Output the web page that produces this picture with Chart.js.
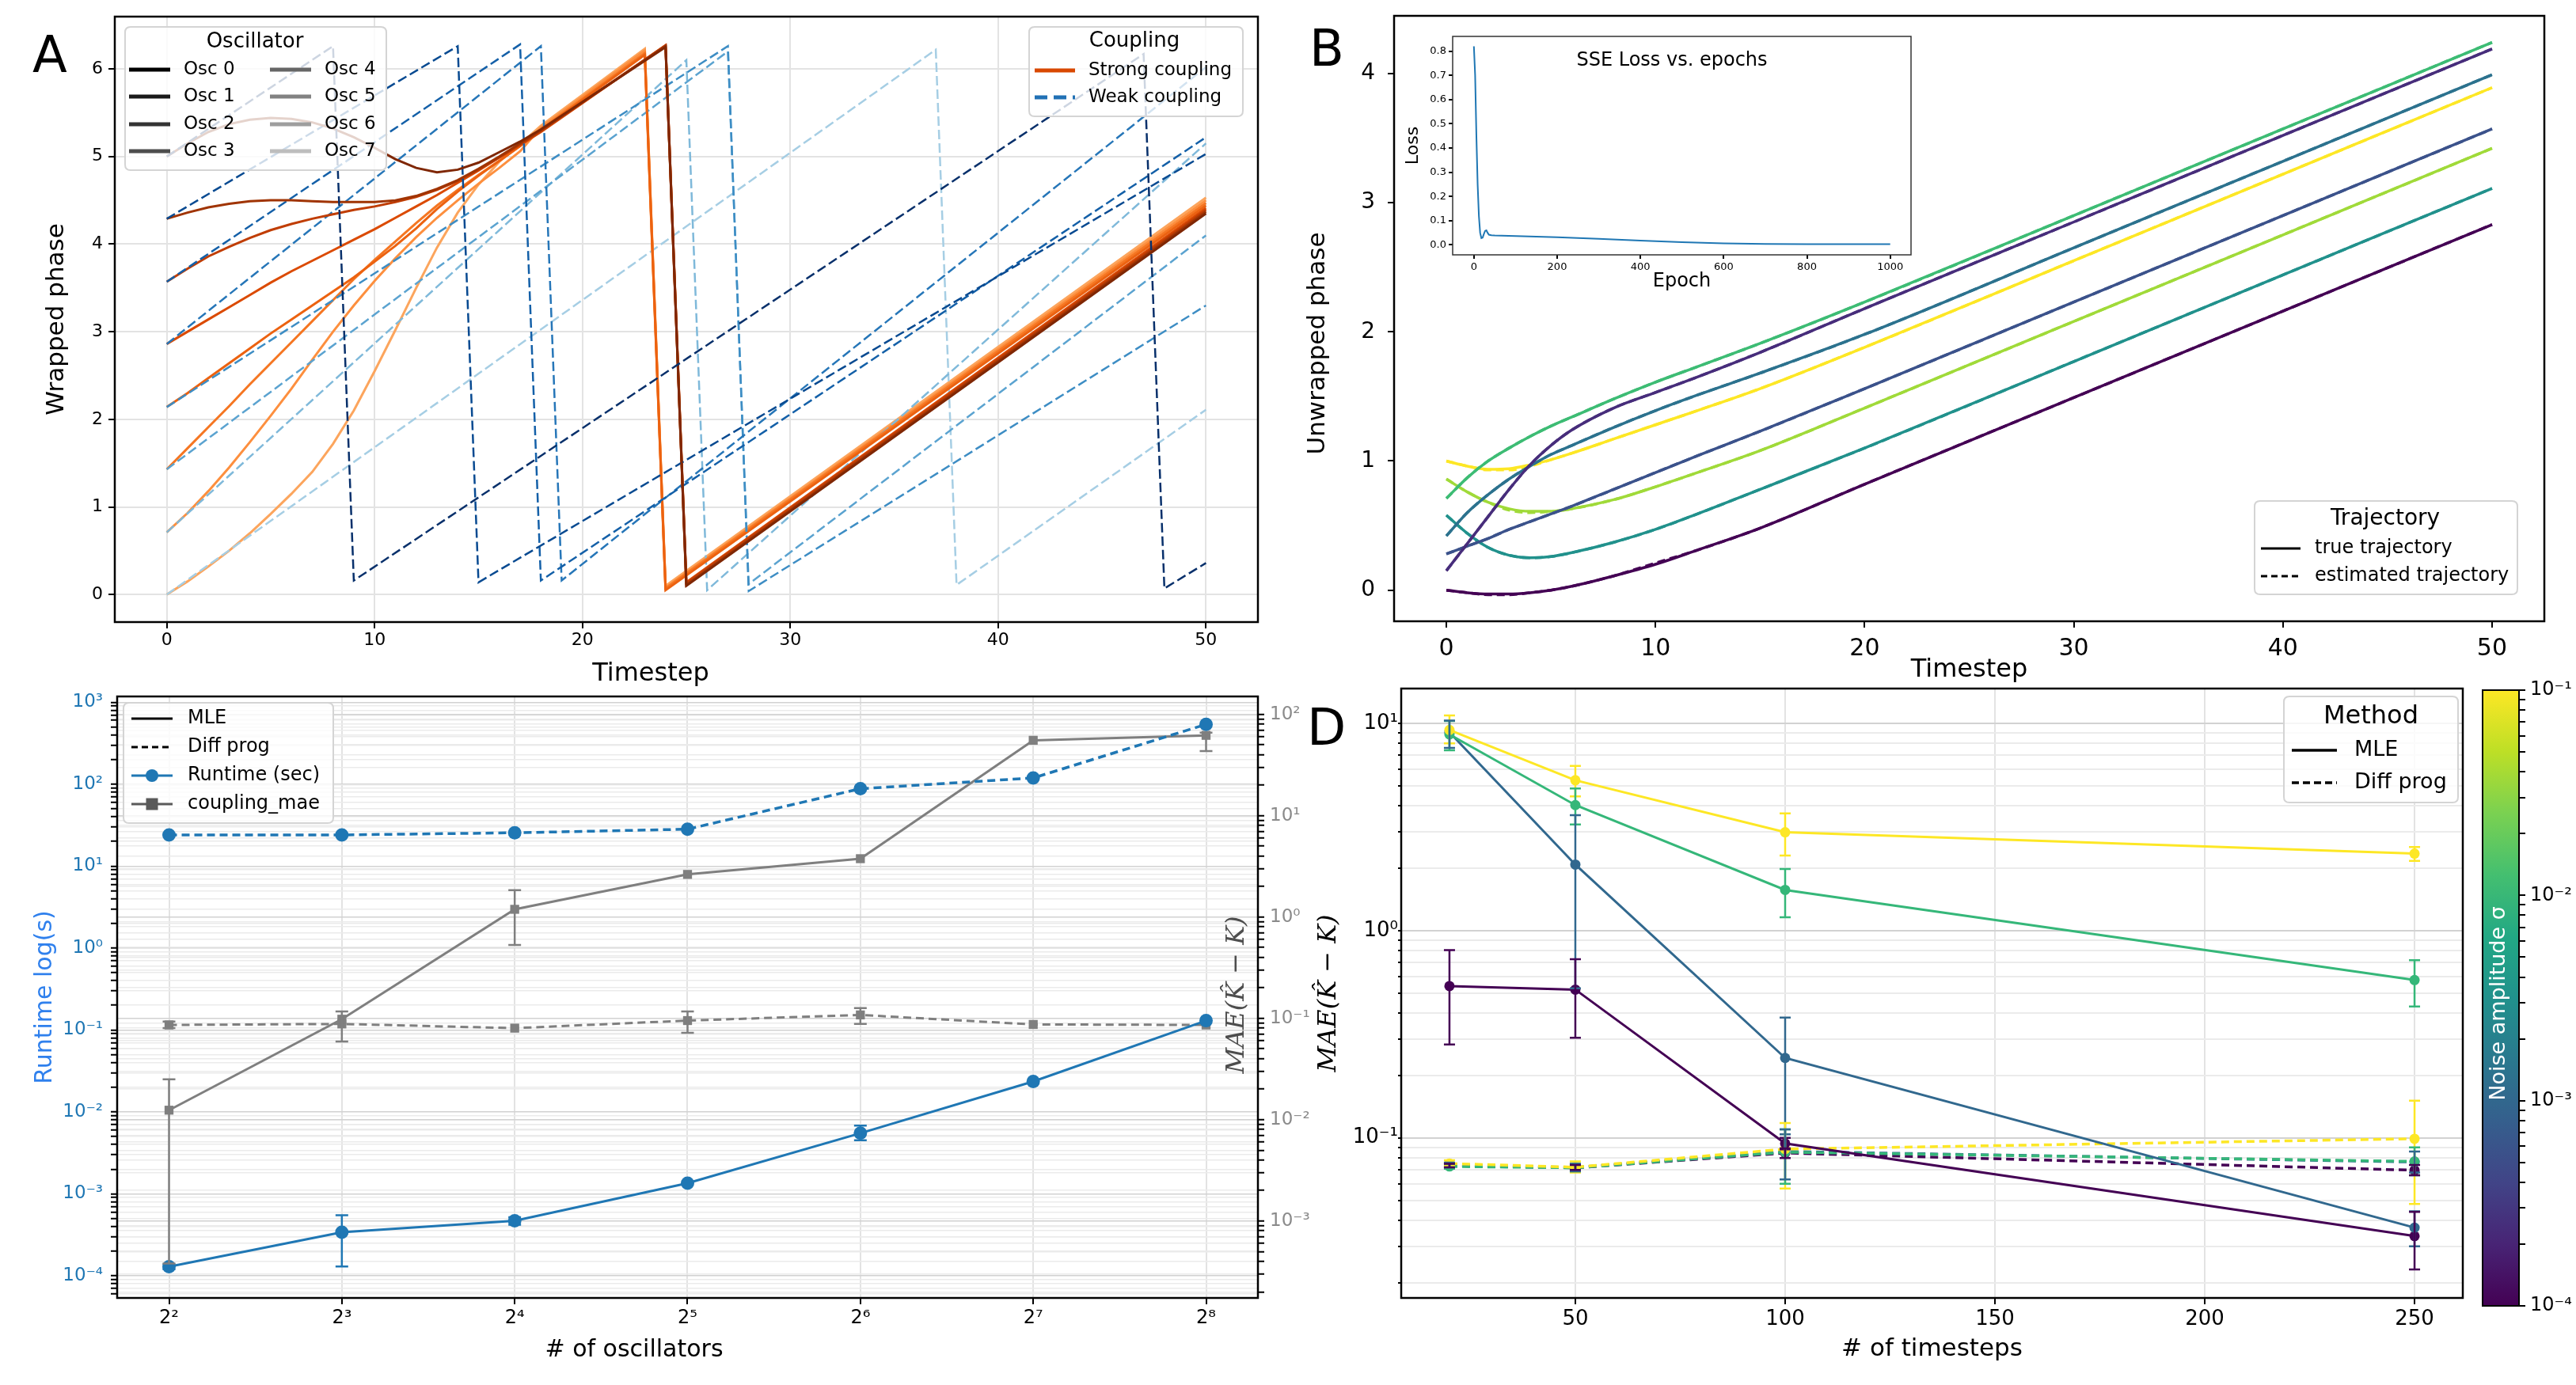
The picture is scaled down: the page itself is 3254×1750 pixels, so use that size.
<!DOCTYPE html>
<html>
<head>
<meta charset="utf-8">
<title>Oscillator coupling figure</title>
<script src="https://cdn.jsdelivr.net/npm/chart.js@4.4.1/dist/chart.umd.min.js"></script>
<style>
  html, body { margin: 0; padding: 0; background: #fff; }
  body { position: relative; width: 3254px; height: 1750px; overflow: hidden; font-family: "DejaVu Sans", sans-serif; }
  .panel { position: absolute; }
  .letter { position: absolute; font: 64px "DejaVu Sans"; line-height: 1; color: #000; }
</style>
</head>
<body>
<div class="panel" style="left:0;top:0;width:1620px;height:875px"><canvas id="phaseChart"></canvas></div>
<div class="panel" style="left:1640px;top:0;width:1614px;height:875px"><canvas id="unwrapChart"></canvas></div>
<div class="panel" style="left:1770px;top:40px;width:660px;height:340px"><canvas id="lossChart"></canvas></div>
<div class="panel" style="left:0;top:860px;width:1680px;height:890px"><canvas id="runtimeChart"></canvas></div>
<div class="panel" style="left:1640px;top:860px;width:1496px;height:890px"><canvas id="maeChart"></canvas></div>
<div class="panel" style="left:3100px;top:850px;width:154px;height:900px"><canvas id="noiseBar"></canvas></div>
<div class="letter" style="left:41px;top:37px">A</div>
<div class="letter" style="left:1654px;top:29px">B</div>
<div class="letter" style="left:1651px;top:887px">D</div>

<script>
Chart.defaults.font.family = '"DejaVu Sans"';
Chart.defaults.color = '#000';

// ---------- A: wrapped phase (vertices are [timestep, phase]) ----------
const stepTicks = [0, 10, 20, 30, 40, 50];
const phaseTicks = [0, 1, 2, 3, 4, 5, 6];
const oscNames = ['Osc 0', 'Osc 1', 'Osc 2', 'Osc 3', 'Osc 4', 'Osc 5', 'Osc 6', 'Osc 7'];
const oscGrays = ['#000000', '#1a1a1a', '#333333', '#4d4d4d', '#666666', '#828282', '#9e9e9e', '#bdbdbd'];
const strongColors = ['#7f2704', '#a03403', '#c03d03', '#db4a02', '#ec6210', '#f57622', '#fd8f3e', '#fca55d'];
const weakColors = ['#08306b', '#084a91', '#1460a8', '#2676b8', '#3d8dc4', '#5ba3d0', '#7fb9da', '#a6cee4'];

const curveSteps = [0, 1, 2, 3, 4, 5, 6, 7, 8, 9, 10, 11, 12, 13, 14, 15, 16, 17, 18];
const strongCurve = [
  [5.00, 5.15, 5.28, 5.37, 5.42, 5.44, 5.43, 5.39, 5.32, 5.22, 5.10, 4.97, 4.87, 4.82, 4.85, 4.93, 5.05, 5.17, 5.31],
  [4.29, 4.36, 4.42, 4.46, 4.49, 4.50, 4.50, 4.49, 4.48, 4.48, 4.48, 4.50, 4.55, 4.63, 4.73, 4.86, 5.00, 5.15, 5.30],
  [3.57, 3.72, 3.86, 3.97, 4.07, 4.16, 4.23, 4.29, 4.34, 4.39, 4.43, 4.48, 4.54, 4.62, 4.72, 4.85, 4.99, 5.14, 5.29],
  [2.86, 3.00, 3.14, 3.28, 3.42, 3.56, 3.69, 3.81, 3.93, 4.05, 4.17, 4.30, 4.43, 4.56, 4.70, 4.84, 4.99, 5.13, 5.28],
  [2.14, 2.30, 2.47, 2.64, 2.81, 2.98, 3.14, 3.30, 3.46, 3.62, 3.80, 3.98, 4.18, 4.40, 4.60, 4.78, 4.95, 5.12, 5.30],
  [1.43, 1.67, 1.91, 2.15, 2.40, 2.64, 2.88, 3.12, 3.36, 3.60, 3.82, 4.03, 4.24, 4.44, 4.62, 4.79, 4.95, 5.12, 5.31],
  [0.71, 0.93, 1.18, 1.45, 1.74, 2.04, 2.35, 2.68, 3.00, 3.30, 3.58, 3.84, 4.08, 4.30, 4.50, 4.69, 4.87, 5.06, 5.33],
  [0.00, 0.15, 0.32, 0.50, 0.70, 0.92, 1.15, 1.40, 1.72, 2.10, 2.55, 3.02, 3.50, 3.96, 4.36, 4.68, 4.94, 5.14, 5.35]
];
const strongTail = [
  [[24, 6.25], [25, 0.10], [50, 4.35]],
  [[24, 6.26], [25, 0.11], [50, 4.37]],
  [[24, 6.27], [25, 0.13], [50, 4.39]],
  [[24, 6.27], [25, 0.14], [50, 4.41]],
  [[23, 6.16], [24, 0.05], [50, 4.44]],
  [[23, 6.18], [24, 0.07], [50, 4.47]],
  [[23, 6.21], [24, 0.08], [50, 4.50]],
  [[23, 6.23], [24, 0.10], [50, 4.53]]
];
const weakPhase = [
  [[0, 5.00], [8, 6.26], [9, 0.16], [47, 6.17], [48, 0.07], [50, 0.36]],
  [[0, 4.29], [14, 6.26], [15, 0.14], [50, 5.03]],
  [[0, 3.57], [17, 6.28], [18, 0.16], [50, 5.22]],
  [[0, 2.86], [18, 6.26], [19, 0.16], [50, 6.02]],
  [[0, 2.14], [27, 6.26], [28, 0.04], [50, 3.30]],
  [[0, 1.43], [27, 6.20], [28, 0.12], [50, 4.10]],
  [[0, 0.71], [25, 6.10], [26, 0.05], [50, 5.15]],
  [[0, 0.00], [37, 6.22], [38, 0.11], [50, 2.11]]
];

// ---------- B: unwrapped phase ----------
const trajSteps = [0, 1, 2, 3, 4, 5, 6, 8, 10, 12, 15, 20, 30, 40, 50];
const trajTicks = [0, 1, 2, 3, 4];
const trajColors = ['#440154', '#472d7b', '#3b528b', '#2c728e', '#21918c', '#3dbc74', '#a0da39', '#fde725'];
const trueTraj = [
  [0.00, -0.02, -0.03, -0.03, -0.02, 0.00, 0.03, 0.11, 0.20, 0.31, 0.48, 0.82, 1.49, 2.16, 2.83],
  [0.15, 0.36, 0.57, 0.78, 0.97, 1.12, 1.24, 1.41, 1.53, 1.65, 1.84, 2.18, 2.85, 3.52, 4.19],
  [0.28, 0.34, 0.40, 0.47, 0.53, 0.59, 0.65, 0.78, 0.91, 1.04, 1.23, 1.56, 2.23, 2.90, 3.57],
  [0.42, 0.60, 0.74, 0.86, 0.96, 1.05, 1.12, 1.26, 1.39, 1.51, 1.68, 1.98, 2.65, 3.32, 3.99],
  [0.58, 0.44, 0.33, 0.27, 0.25, 0.26, 0.29, 0.37, 0.47, 0.59, 0.78, 1.10, 1.77, 2.44, 3.11],
  [0.71, 0.87, 1.00, 1.10, 1.19, 1.27, 1.34, 1.48, 1.61, 1.73, 1.91, 2.23, 2.90, 3.57, 4.24],
  [0.86, 0.76, 0.68, 0.63, 0.61, 0.61, 0.63, 0.70, 0.80, 0.91, 1.08, 1.41, 2.08, 2.75, 3.42],
  [1.00, 0.96, 0.935, 0.94, 0.97, 1.01, 1.06, 1.17, 1.28, 1.39, 1.56, 1.88, 2.55, 3.22, 3.89]
];
const estTraj = [
  [0.00, -0.02, -0.035, -0.035, -0.02, 0.00, 0.03, 0.11, 0.21, 0.31, 0.48, 0.82, 1.49, 2.16, 2.83],
  [0.15, 0.36, 0.57, 0.78, 0.97, 1.12, 1.24, 1.41, 1.53, 1.65, 1.84, 2.18, 2.85, 3.52, 4.19],
  [0.28, 0.34, 0.40, 0.47, 0.53, 0.59, 0.65, 0.78, 0.91, 1.04, 1.23, 1.56, 2.23, 2.90, 3.57],
  [0.42, 0.60, 0.74, 0.86, 0.96, 1.05, 1.12, 1.26, 1.39, 1.51, 1.68, 1.98, 2.65, 3.32, 3.99],
  [0.58, 0.44, 0.33, 0.27, 0.25, 0.26, 0.29, 0.37, 0.47, 0.59, 0.78, 1.10, 1.77, 2.44, 3.11],
  [0.71, 0.87, 1.00, 1.10, 1.19, 1.27, 1.34, 1.48, 1.61, 1.73, 1.91, 2.23, 2.90, 3.57, 4.24],
  [0.86, 0.76, 0.68, 0.62, 0.60, 0.61, 0.63, 0.70, 0.80, 0.91, 1.08, 1.41, 2.08, 2.75, 3.42],
  [1.00, 0.96, 0.93, 0.93, 0.96, 1.01, 1.06, 1.17, 1.28, 1.39, 1.56, 1.88, 2.55, 3.22, 3.89]
];
const lossEpochs = [0, 3, 6, 9, 12, 15, 18, 21, 24, 27, 30, 33, 36, 42, 50, 100, 200, 300, 400, 500, 600, 700, 800, 900, 1000];
const lossValues = [0.82, 0.70, 0.45, 0.25, 0.12, 0.05, 0.028, 0.03, 0.045, 0.058, 0.06, 0.05, 0.042, 0.04, 0.039, 0.037, 0.032, 0.025, 0.018, 0.011, 0.006, 0.004, 0.003, 0.003, 0.003];
const epochTicks = [0, 200, 400, 600, 800, 1000];
const lossTicks = [0, 0.1, 0.2, 0.3, 0.4, 0.5, 0.6, 0.7, 0.8];

// ---------- C: runtime and coupling error vs number of oscillators ----------
const oscCounts = [4, 8, 16, 32, 64, 128, 256];
const oscExpTicks = [2, 3, 4, 5, 6, 7, 8];
const runtimeMle = [1.29e-4, 3.4e-4, 4.7e-4, 1.35e-3, 5.5e-3, 2.35e-2, 0.13];
const runtimeMleLow = [1.2e-4, 1.3e-4, 4.2e-4, null, 4.5e-3, null, null];
const runtimeMleHigh = [1.38e-4, 5.5e-4, 5.2e-4, null, 6.8e-3, null, null];
const runtimeDiff = [24, 24, 25.5, 28.2, 88, 119, 537];
const maeMle = [0.0124, 0.098, 1.19, 2.63, 3.76, 55.4, 62];
const maeMleLow = [3.8e-4, 0.059, 0.53, null, null, null, 43.4];
const maeMleHigh = [0.025, 0.117, 1.84, null, null, null, 66];
const maeDiff = [0.086, 0.088, 0.080, 0.095, 0.108, 0.087, 0.086];
const maeDiffLow = [0.08, null, null, 0.072, 0.088, null, null];
const maeDiffHigh = [0.093, null, null, 0.117, 0.126, null, null];
const runtimeDecades = [-5, -4, -3, -2, -1, 0, 1, 2, 3];
const maeDecades = [-4, -3, -2, -1, 0, 1, 2];

// ---------- D: error vs number of timesteps, per noise level ----------
const sampleSteps = [20, 50, 100, 250];
const timestepTicks = [50, 100, 150, 200, 250];
const noiseLevels = [1e-1, 1e-2, 1e-3, 1e-4];
const noiseColors = ['#fde725', '#35b779', '#31688e', '#440154'];
const mleMae = [[9.28, 5.31, 2.98, 2.35], [8.83, 4.03, 1.57, 0.577], [9.05, 2.08, 0.243, 0.0369], [0.54, 0.519, 0.094, 0.0336]];
const mleLow = [[8.0, 4.44, 2.3, 2.17], [7.41, 3.25, 1.16, 0.43], [7.6, 0.527, 0.104, 0.030], [0.282, 0.304, 0.088, 0.0232]];
const mleHigh = [[10.9, 6.23, 3.67, 2.53], [10.25, 4.85, 1.98, 0.72], [10.3, 3.6, 0.38, 0.0442], [0.805, 0.728, 0.1, 0.044]];
const diffMae = [[0.0752, 0.0722, 0.0883, 0.099], [0.0728, 0.0717, 0.0853, 0.077], [0.074, 0.072, 0.086, 0.0765], [0.0735, 0.0717, 0.0845, 0.0698]];
const diffLow = [[0.073, 0.068, 0.057, 0.048], [0.071, 0.069, 0.06, 0.066], [0.072, 0.069, 0.063, 0.068], [0.072, 0.07, 0.08, 0.066]];
const diffHigh = [[0.078, 0.077, 0.118, 0.151], [0.075, 0.075, 0.11, 0.09], [0.076, 0.075, 0.11, 0.086], [0.075, 0.074, 0.089, 0.074]];
const maeDDecades = [-2, -1, 0, 1];
const noiseDecades = [-4, -3, -2, -1];

const viridisStops = ['#440154', '#482475', '#414487', '#355f8d', '#2a788e', '#21918c', '#22a884', '#44bf70', '#7ad151', '#bddf26', '#fde725'];

// ---------- helpers ----------
const SUP = { '-': '\u207b', '0': '\u2070', '1': '\u00b9', '2': '\u00b2', '3': '\u00b3', '4': '\u2074', '5': '\u2075', '6': '\u2076', '7': '\u2077', '8': '\u2078', '9': '\u2079' };
function sup(n) { return String(n).split('').map(c => SUP[c]).join(''); }
function isDecade(v) { const l = Math.log10(v); return Math.abs(l - Math.round(l)) < 1e-6; }
function decadeLabel(v) { return isDecade(v) ? '10' + sup(Math.round(Math.log10(v))) : ''; }
function pts(xs, ys) { return xs.map((x, i) => ({ x: x, y: ys[i] })); }
function pairs(list) { return list.map(p => ({ x: p[0], y: p[1] })); }

function fixSize(size) {
  return function (scale) {
    if (scale.isHorizontal()) scale.height = size; else scale.width = size;
    scale.paddingTop = 0; scale.paddingBottom = 0; scale.paddingLeft = 0; scale.paddingRight = 0;
  };
}
function setTicks(values) { return function (scale) { scale.ticks = values.map(v => ({ value: v })); }; }
function setLogTicks(decades) {
  return function (scale) {
    const vals = [];
    decades.forEach(e => { for (let m = 1; m < 10; m++) vals.push(m * Math.pow(10, e)); });
    scale.ticks = vals.filter(v => v >= scale.min * 0.9999 && v <= scale.max * 1.0001).map(v => ({ value: v }));
  };
}
function logGrid(ctx) { return ctx.tick && isDecade(ctx.tick.value) ? '#d2d2d2' : '#ebebeb'; }

function baseOptions(pad) {
  return {
    responsive: true, maintainAspectRatio: false, animation: false, devicePixelRatio: 1, events: [],
    layout: { padding: pad },
    plugins: { legend: { display: false }, tooltip: { enabled: false } },
    elements: { point: { radius: 0 }, line: { tension: 0 } }
  };
}

function framePlugin(color, width) {
  return { id: 'frame', afterDatasetsDraw(chart) {
    const { ctx, chartArea: a } = chart;
    ctx.save(); ctx.strokeStyle = color; ctx.lineWidth = width; ctx.setLineDash([]);
    ctx.strokeRect(a.left, a.top, a.right - a.left, a.bottom - a.top);
    ctx.restore();
  } };
}

const errorBarPlugin = { id: 'errorBars', afterDatasetsDraw(chart) {
  const ctx = chart.ctx;
  chart.data.datasets.forEach((ds, i) => {
    if (!ds.errLow) return;
    const meta = chart.getDatasetMeta(i);
    const xs = chart.scales[meta.xAxisID], ys = chart.scales[meta.yAxisID];
    const cap = ds.errCap || 7;
    ctx.save(); ctx.strokeStyle = ds.borderColor; ctx.lineWidth = ds.errWidth || 2.5; ctx.setLineDash([]);
    ds.data.forEach((p, j) => {
      const lo = ds.errLow[j], hi = ds.errHigh[j];
      if (lo == null || hi == null) return;
      const x = xs.getPixelForValue(p.x), y1 = ys.getPixelForValue(lo), y2 = ys.getPixelForValue(hi);
      ctx.beginPath();
      ctx.moveTo(x, y1); ctx.lineTo(x, y2);
      ctx.moveTo(x - cap, y1); ctx.lineTo(x + cap, y1);
      ctx.moveTo(x - cap, y2); ctx.lineTo(x + cap, y2);
      ctx.stroke();
    });
    ctx.restore();
  });
} };

function roundRect(ctx, x, y, w, h, r) {
  ctx.beginPath();
  ctx.moveTo(x + r, y); ctx.lineTo(x + w - r, y); ctx.quadraticCurveTo(x + w, y, x + w, y + r);
  ctx.lineTo(x + w, y + h - r); ctx.quadraticCurveTo(x + w, y + h, x + w - r, y + h);
  ctx.lineTo(x + r, y + h); ctx.quadraticCurveTo(x, y + h, x, y + h - r);
  ctx.lineTo(x, y + r); ctx.quadraticCurveTo(x, y, x + r, y); ctx.closePath();
}
function drawMarker(ctx, kind, x, y, r, color) {
  ctx.fillStyle = color;
  if (kind === 'circle') { ctx.beginPath(); ctx.arc(x, y, r, 0, Math.PI * 2); ctx.fill(); }
  else if (kind === 'rect') ctx.fillRect(x - r, y - r, 2 * r, 2 * r);
}

// legend box inside the axes, positions given in page pixels
function legendPlugin(cfg) {
  return { id: 'boxLegend', afterDraw(chart) {
    const ctx = chart.ctx, ox = cfg.ox, oy = cfg.oy;
    ctx.save();
    roundRect(ctx, cfg.box[0] - ox, cfg.box[1] - oy, cfg.box[2], cfg.box[3], 7);
    ctx.fillStyle = 'rgba(255,255,255,0.8)'; ctx.fill();
    ctx.strokeStyle = '#d4d4d4'; ctx.lineWidth = 2; ctx.stroke();
    ctx.textBaseline = 'middle';
    if (cfg.title) {
      ctx.font = cfg.titleFont; ctx.fillStyle = '#000'; ctx.textAlign = 'center';
      ctx.fillText(cfg.title, cfg.titleAt[0] - ox, cfg.titleAt[1] - oy);
    }
    ctx.textAlign = 'left'; ctx.font = cfg.font;
    cfg.items.forEach(it => {
      const x = it.x - ox, y = it.y - oy;
      ctx.strokeStyle = it.color; ctx.lineWidth = it.width; ctx.setLineDash(it.dash || []);
      ctx.beginPath(); ctx.moveTo(x, y); ctx.lineTo(x + cfg.handle, y); ctx.stroke();
      ctx.setLineDash([]);
      if (it.marker) drawMarker(ctx, it.marker, x + cfg.handle / 2, y, it.markerSize, it.color);
      ctx.fillStyle = '#000'; ctx.fillText(it.label, x + cfg.handle + cfg.gap, y);
    });
    ctx.restore();
  } };
}

// free text (canvas pixels), used for labels that sit off the axis centre
function textPlugin(items) {
  return { id: 'panelText', afterDraw(chart) {
    const ctx = chart.ctx;
    items.forEach(t => {
      ctx.save();
      ctx.translate(t.x, t.y);
      if (t.rotate) ctx.rotate(t.rotate);
      ctx.font = t.font; ctx.fillStyle = t.color || '#000';
      ctx.textAlign = 'center'; ctx.textBaseline = 'middle';
      ctx.fillText(t.text, 0, 0);
      ctx.restore();
    });
  } };
}

function axis(o) {
  return {
    type: o.type || 'linear', position: o.position, min: o.min, max: o.max, display: o.display !== false,
    afterFit: fixSize(o.size),
    afterBuildTicks: o.decades ? setLogTicks(o.decades) : setTicks(o.ticks),
    ticks: { font: { size: o.font }, padding: o.pad, color: o.color || '#000', autoSkip: false, maxRotation: 0,
      callback: o.fmt || (v => String(v)) },
    grid: { drawOnChartArea: !!o.grid, color: o.decades ? logGrid : '#e3e3e3', lineWidth: o.gridWidth || 2,
      tickColor: '#000', tickLength: o.tickLength || 8, tickWidth: 2 },
    border: { display: false },
    title: o.title ? { display: true, text: o.title, font: o.titleFont, padding: o.titlePad, color: o.titleColor || '#000' } : { display: false }
  };
}

// ---------- A ----------
const phaseSets = [];
for (let i = 0; i < 8; i++) {
  phaseSets.push({ label: 'Weak ' + oscNames[i], data: pairs(weakPhase[i]),
    borderColor: weakColors[i], borderWidth: 2.5, borderDash: [12, 5] });
  phaseSets.push({ label: 'Strong ' + oscNames[i], data: pts(curveSteps, strongCurve[i]).concat(pairs(strongTail[i])),
    borderColor: strongColors[i], borderWidth: 3 });
}
const optA = baseOptions({ top: 21, right: 31, left: 0, bottom: 0 });
optA.scales = {
  x: axis({ min: -2.5, max: 52.5, size: 89, ticks: stepTicks, font: 22, pad: 2, grid: true }),
  y: axis({ min: -0.314, max: 6.597, size: 145, ticks: phaseTicks, font: 22, pad: 7, grid: true,
    title: 'Wrapped phase', titleFont: { size: 31 }, titlePad: { top: 53 } })
};
new Chart(document.getElementById('phaseChart'), {
  type: 'line', data: { datasets: phaseSets }, options: optA,
  plugins: [framePlugin('#000', 2.5),
    textPlugin([{ text: 'Timestep', x: 822, y: 852, font: '32px "DejaVu Sans"' }]),
    legendPlugin({ ox: 0, oy: 0, box: [158, 34, 330, 181], title: 'Oscillator', titleAt: [322, 53],
      titleFont: '26px "DejaVu Sans"', font: '23px "DejaVu Sans"', handle: 52, gap: 17,
      items: oscNames.map((n, i) => ({ label: n, x: i < 4 ? 163 : 341, y: [88, 122, 157, 191][i % 4], color: oscGrays[i], width: 5 })) }),
    legendPlugin({ ox: 0, oy: 0, box: [1300, 34, 270, 113], title: 'Coupling', titleAt: [1433, 52],
      titleFont: '26px "DejaVu Sans"', font: '23px "DejaVu Sans"', handle: 51, gap: 17,
      items: [{ label: 'Strong coupling', x: 1307, y: 89, color: '#d94801', width: 5 },
              { label: 'Weak coupling', x: 1307, y: 123, color: '#2171b5', width: 5, dash: [16, 8] }] })]
});

// ---------- B ----------
const trajSets = [];
for (let i = 0; i < 8; i++) {
  trajSets.push({ label: 'estimated ' + i, data: pts(trajSteps, estTraj[i]), borderColor: trajColors[i],
    borderWidth: 3.5, borderDash: [10, 6], cubicInterpolationMode: 'monotone' });
  trajSets.push({ label: 'true ' + i, data: pts(trajSteps, trueTraj[i]), borderColor: trajColors[i],
    borderWidth: 3.5, cubicInterpolationMode: 'monotone' });
}
const optB = baseOptions({ top: 20, right: 40, left: 0, bottom: 0 });
optB.scales = {
  x: axis({ min: -2.5, max: 52.5, size: 90, ticks: stepTicks, font: 30, pad: 9,
    title: 'Timestep', titleFont: { size: 32 }, titlePad: { bottom: 9 } }),
  y: axis({ min: -0.241, max: 4.446, size: 121, ticks: trajTicks, font: 28, pad: 16 })
};
new Chart(document.getElementById('unwrapChart'), {
  type: 'line', data: { datasets: trajSets }, options: optB,
  plugins: [framePlugin('#000', 2.5),
    textPlugin([{ text: 'Unwrapped phase', x: 25, y: 434, rotate: -Math.PI / 2, font: '31px "DejaVu Sans"' }]),
    legendPlugin({ ox: 1640, oy: 0, box: [2848, 633, 332, 118], title: 'Trajectory', titleAt: [3013, 656],
      titleFont: '28px "DejaVu Sans"', font: '24px "DejaVu Sans"', handle: 50, gap: 18,
      items: [{ label: 'true trajectory', x: 2856, y: 693, color: '#000', width: 3 },
              { label: 'estimated trajectory', x: 2856, y: 728, color: '#000', width: 3, dash: [8, 5] }] })]
});

// inset: training loss
const optL = baseOptions({ top: 6, right: 16, left: 0, bottom: 0 });
optL.scales = {
  x: axis({ min: -51, max: 1050, size: 58, ticks: epochTicks, font: 13, pad: 3, tickLength: 5,
    title: 'Epoch', titleFont: { size: 24 }, titlePad: { bottom: 10 } }),
  y: axis({ min: -0.041, max: 0.861, size: 65, ticks: lossTicks, font: 13, pad: 3, tickLength: 5,
    fmt: v => v.toFixed(1), title: 'Loss', titleFont: { size: 22 }, titlePad: { top: 2 } })
};
new Chart(document.getElementById('lossChart'), {
  type: 'line',
  data: { datasets: [{ label: 'SSE loss', data: pts(lossEpochs, lossValues), borderColor: '#1f77b4', borderWidth: 2 }] },
  options: optL,
  plugins: [{ id: 'insetBg', beforeDraw(chart) {
      const { ctx, chartArea: a } = chart;
      ctx.save(); ctx.fillStyle = '#fff'; ctx.fillRect(a.left, a.top, a.right - a.left, a.bottom - a.top); ctx.restore();
    } },
    framePlugin('#333', 1.5),
    textPlugin([{ text: 'SSE Loss vs. epochs', x: 342, y: 37, font: '24px "DejaVu Sans"' }])]
});

// ---------- C ----------
const oscExp = oscCounts.map(n => Math.log2(n));
const optC = baseOptions({ top: 20, right: 0, left: 0, bottom: 0 });
optC.scales = {
  x: axis({ min: 1.7, max: 8.3, size: 110, ticks: oscExpTicks, font: 24, pad: 3, grid: true, fmt: v => '2' + sup(v) }),
  y: axis({ type: 'logarithmic', position: 'left', min: 5.37e-5, max: 1175, size: 148, decades: runtimeDecades,
    font: 23, pad: 10, grid: true, gridWidth: 1.5, color: '#1f77b4', fmt: decadeLabel,
    title: 'Runtime log(s)', titleFont: { size: 30 }, titlePad: { top: 39 }, titleColor: '#2f80ed' }),
  y2: axis({ type: 'logarithmic', position: 'right', min: 1.74e-4, max: 150, size: 91, decades: maeDecades,
    font: 23, pad: 7, grid: true, gridWidth: 1.5, color: '#8a8a8a', fmt: decadeLabel })
};
const runtimeSets = [
  { label: 'Runtime MLE', data: pts(oscExp, runtimeMle), yAxisID: 'y', borderColor: '#1f77b4', borderWidth: 3,
    pointRadius: 8.5, pointBackgroundColor: '#1f77b4', pointBorderWidth: 0, errLow: runtimeMleLow, errHigh: runtimeMleHigh, errCap: 8 },
  { label: 'Runtime Diff prog', data: pts(oscExp, runtimeDiff), yAxisID: 'y', borderColor: '#1f77b4', borderWidth: 3.5,
    borderDash: [10, 6], pointRadius: 8.5, pointBackgroundColor: '#1f77b4', pointBorderWidth: 0 },
  { label: 'coupling_mae MLE', data: pts(oscExp, maeMle), yAxisID: 'y2', borderColor: '#7f7f7f', borderWidth: 3,
    pointStyle: 'rect', pointRadius: 8, pointBackgroundColor: '#7f7f7f', pointBorderWidth: 0, errLow: maeMleLow, errHigh: maeMleHigh, errCap: 8 },
  { label: 'coupling_mae Diff prog', data: pts(oscExp, maeDiff), yAxisID: 'y2', borderColor: '#7f7f7f', borderWidth: 3,
    borderDash: [10, 6], pointStyle: 'rect', pointRadius: 8, pointBackgroundColor: '#7f7f7f', pointBorderWidth: 0,
    errLow: maeDiffLow, errHigh: maeDiffHigh, errCap: 8 }
];
new Chart(document.getElementById('runtimeChart'), {
  type: 'line', data: { datasets: runtimeSets }, options: optC,
  plugins: [errorBarPlugin, framePlugin('#000', 2.5),
    textPlugin([{ text: 'MAE(K\u0302 \u2212 K)', x: 1563, y: 397, rotate: -Math.PI / 2, font: 'italic 32px "DejaVu Serif"', color: '#4d4d4d' },
                { text: '# of oscillators', x: 801, y: 846, font: '30px "DejaVu Sans"' }]),
    legendPlugin({ ox: 0, oy: 860, box: [156, 888, 265, 152], font: '24px "DejaVu Sans"', handle: 52, gap: 19,
      items: [{ label: 'MLE', x: 166, y: 908, color: '#000', width: 3 },
              { label: 'Diff prog', x: 166, y: 944, color: '#000', width: 3, dash: [8, 5] },
              { label: 'Runtime (sec)', x: 166, y: 980, color: '#1f77b4', width: 3, marker: 'circle', markerSize: 8 },
              { label: 'coupling_mae', x: 166, y: 1016, color: '#595959', width: 3, marker: 'rect', markerSize: 7.5 }] })]
});

// ---------- D ----------
const maeSets = [];
for (let i = 0; i < noiseLevels.length; i++) {
  maeSets.push({ label: 'MLE sigma ' + noiseLevels[i], data: pts(sampleSteps, mleMae[i]), borderColor: noiseColors[i],
    borderWidth: 3, pointRadius: 6.5, pointBackgroundColor: noiseColors[i], pointBorderWidth: 0,
    errLow: mleLow[i], errHigh: mleHigh[i], errCap: 7 });
}
for (let i = 0; i < noiseLevels.length; i++) {
  maeSets.push({ label: 'Diff prog sigma ' + noiseLevels[i], data: pts(sampleSteps, diffMae[i]), borderColor: noiseColors[i],
    borderWidth: 3.5, borderDash: [10, 6], pointRadius: 6.5, pointBackgroundColor: noiseColors[i], pointBorderWidth: 0,
    errLow: diffLow[i], errHigh: diffHigh[i], errCap: 7 });
}
const optD = baseOptions({ top: 10, right: 25, left: 0, bottom: 0 });
optD.scales = {
  x: axis({ min: 8.5, max: 261.5, size: 110, ticks: timestepTicks, font: 26, pad: 4, grid: true,
    title: '# of timesteps', titleFont: { size: 31 }, titlePad: { bottom: 26 } }),
  y: axis({ type: 'logarithmic', min: 0.0169, max: 14.7, size: 130, decades: maeDDecades, font: 26, pad: 0, tickLength: 4,
    grid: true, gridWidth: 2, fmt: decadeLabel,
    title: 'MAE(K\u0302 \u2212 K)', titleFont: { size: 32, style: 'italic', family: '"DejaVu Serif"' }, titlePad: { top: 19 } })
};
new Chart(document.getElementById('maeChart'), {
  type: 'line', data: { datasets: maeSets }, options: optD,
  plugins: [errorBarPlugin, framePlugin('#000', 2.5),
    legendPlugin({ ox: 1640, oy: 860, box: [2885, 880, 220, 134], title: 'Method', titleAt: [2995, 906],
      titleFont: '32px "DejaVu Sans"', font: '27px "DejaVu Sans"', handle: 57, gap: 22,
      items: [{ label: 'MLE', x: 2895, y: 948, color: '#000', width: 3.5 },
              { label: 'Diff prog', x: 2895, y: 989, color: '#000', width: 3.5, dash: [9, 5] }] })]
});

// colour bar for the noise amplitude
const optN = baseOptions({ top: 22, right: 0, left: 36, bottom: 100 });
optN.scales = {
  x: { type: 'linear', display: false, min: -1, max: 1 },
  y: axis({ type: 'logarithmic', position: 'right', min: 1e-4, max: 1e-1, size: 72, decades: noiseDecades,
    font: 24, pad: 6, fmt: decadeLabel })
};
new Chart(document.getElementById('noiseBar'), {
  type: 'scatter',
  data: { datasets: [{ label: 'noise amplitude', data: noiseLevels.map(v => ({ x: 0, y: v })), pointRadius: 0 }] },
  options: optN,
  plugins: [{ id: 'viridis', beforeDatasetsDraw(chart) {
      const { ctx, chartArea: a } = chart;
      const g = ctx.createLinearGradient(0, a.bottom, 0, a.top);
      viridisStops.forEach((c, i) => g.addColorStop(i / (viridisStops.length - 1), c));
      ctx.save(); ctx.fillStyle = g; ctx.fillRect(a.left, a.top, a.right - a.left, a.bottom - a.top); ctx.restore();
    } },
    framePlugin('#000', 2),
    textPlugin([{ text: 'Noise amplitude \u03c3', x: 57, y: 418, rotate: -Math.PI / 2, font: '27px "DejaVu Sans"', color: '#fff' }])]
});
</script>
</body>
</html>
